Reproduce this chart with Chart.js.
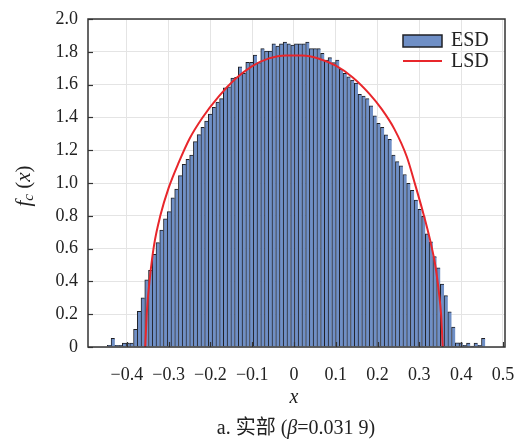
<!DOCTYPE html>
<html>
<head>
<meta charset="utf-8">
<script src="https://cdn.jsdelivr.net/npm/chart.js@4.4.1/dist/chart.umd.min.js"></script>
<style>
  html, body { margin: 0; padding: 0; background: #fff; }
</style>
</head>
<body>
<canvas id="chart" width="517" height="439"></canvas>
<script>
// histogram bins (ESD)
const binStart = -0.4467;
const binWidth = 0.008954;
const esdHeights = [
  0.010, 0.053, 0.010, 0.010, 0.024, 0.024, 0.024, 0.108, 0.218, 0.300,
  0.410, 0.467, 0.565, 0.636, 0.713, 0.782, 0.825, 0.909, 0.963, 1.045,
  1.114, 1.144, 1.171, 1.252, 1.295, 1.340, 1.378, 1.421, 1.462, 1.494,
  1.514, 1.581, 1.587, 1.640, 1.644, 1.709, 1.669, 1.736, 1.736, 1.780,
  1.734, 1.819, 1.805, 1.805, 1.849, 1.835, 1.848, 1.860, 1.849, 1.841,
  1.848, 1.848, 1.848, 1.860, 1.819, 1.819, 1.819, 1.791, 1.750, 1.764,
  1.734, 1.750, 1.693, 1.669, 1.648, 1.628, 1.610, 1.541, 1.530, 1.514,
  1.470, 1.410, 1.364, 1.340, 1.293, 1.266, 1.171, 1.130, 1.104, 1.052,
  0.998, 0.955, 0.896, 0.840, 0.797, 0.690, 0.642, 0.551, 0.482, 0.383,
  0.313, 0.215, 0.122, 0.026, 0.026, 0.010, 0.024, 0.005, 0.024, 0.010,
  0.053
];

// LSD curve, points
const lsdX = [
  -0.356, -0.352, -0.345, -0.335, -0.320, -0.300, -0.275, -0.250, -0.220, -0.180,
  -0.140, -0.100, -0.060, -0.020, 0.020, 0.060, 0.100, 0.140, 0.180, 0.210,
  0.240, 0.270, 0.290, 0.310, 0.325, 0.338, 0.347, 0.352, 0.356
];
const lsdY = [
  0.000, 0.220, 0.420, 0.620, 0.800, 0.970, 1.130, 1.270, 1.395, 1.528,
  1.635, 1.713, 1.760, 1.778, 1.778, 1.758, 1.715, 1.645, 1.545, 1.450,
  1.330, 1.160, 0.990, 0.810, 0.660, 0.500, 0.330, 0.200, 0.000
];

const xTicks = [-0.4, -0.3, -0.2, -0.1, 0, 0.1, 0.2, 0.3, 0.4, 0.5];
const yTicks = [0, 0.2, 0.4, 0.6, 0.8, 1.0, 1.2, 1.4, 1.6, 1.8, 2.0];

const serif = "'Liberation Serif', 'Times New Roman', 'Noto Sans CJK SC', serif";
const barFill = '#6f8fc6';
const barEdge = '#1f2026';
const lineRed = '#e8262b';

Chart.defaults.font.family = serif;
Chart.defaults.font.size = 18;
Chart.defaults.color = '#222';

// frame, inward ticks, legend, axis titles and caption
const decorPlugin = {
  id: 'decor',
  afterDraw(chart) {
    const { ctx, chartArea: a, scales } = chart;
    ctx.save();
    ctx.strokeStyle = '#333';
    ctx.lineWidth = 1.2;
    xTicks.forEach(v => {
      const px = Math.round(scales.x.getPixelForValue(v)) + 0.5;
      ctx.beginPath(); ctx.moveTo(px, a.bottom); ctx.lineTo(px, a.bottom - 5); ctx.stroke();
    });
    yTicks.forEach(v => {
      const py = Math.round(scales.y.getPixelForValue(v)) + 0.5;
      ctx.beginPath(); ctx.moveTo(a.left, py); ctx.lineTo(a.left + 5, py); ctx.stroke();
    });
    ctx.lineWidth = 1.5;
    ctx.strokeRect(a.left, a.top, a.right - a.left, a.bottom - a.top);

    // legend
    const ds = chart.data.datasets;
    ctx.fillStyle = barFill;
    ctx.fillRect(403, 35, 39, 12);
    ctx.strokeStyle = barEdge;
    ctx.lineWidth = 1.5;
    ctx.strokeRect(403, 35, 39, 12);
    ctx.strokeStyle = lineRed;
    ctx.lineWidth = 2;
    ctx.beginPath(); ctx.moveTo(403, 61); ctx.lineTo(442, 61); ctx.stroke();
    ctx.fillStyle = '#222';
    ctx.font = '20px ' + serif;
    ctx.textAlign = 'left';
    ctx.textBaseline = 'middle';
    ctx.fillText(ds[1].label, 451, 41);
    ctx.fillText(ds[0].label, 451, 62);

    // x title
    ctx.font = 'italic 20px ' + serif;
    ctx.textAlign = 'center';
    ctx.fillText('x', 294, 398);

    // caption
    const parts = [
      ['a. 实部 (', '20px ' + serif],
      ['β', 'italic 20px ' + serif],
      ['=0.031 9)', '20px ' + serif]
    ];
    let total = 0;
    parts.forEach(p => { ctx.font = p[1]; total += ctx.measureText(p[0]).width; });
    let cx = 296 - total / 2;
    ctx.textAlign = 'left';
    parts.forEach(p => { ctx.font = p[1]; ctx.fillText(p[0], cx, 429); cx += ctx.measureText(p[0]).width; });

    // y title, rotated
    ctx.translate(24, 186);
    ctx.rotate(-Math.PI / 2);
    const yparts = [
      ['f', 'italic 21px ' + serif, 0],
      ['c', 'italic 15px ' + serif, 5],
      [' (', '21px ' + serif, 0],
      ['x', 'italic 21px ' + serif, 0],
      [')', '21px ' + serif, 0]
    ];
    total = 0;
    yparts.forEach(p => { ctx.font = p[1]; total += ctx.measureText(p[0]).width; });
    cx = -total / 2;
    yparts.forEach(p => { ctx.font = p[1]; ctx.fillText(p[0], cx, p[2]); cx += ctx.measureText(p[0]).width; });
    ctx.restore();
  }
};

const fmtX = v => v === 0 ? '0' : (v < 0 ? '\u2212' : '') + Math.abs(v).toFixed(1);
const fmtY = v => v === 0 ? '0' : v.toFixed(1);

new Chart(document.getElementById('chart').getContext('2d'), {
  type: 'bar',
  data: {
    datasets: [
      {
        type: 'line',
        label: 'LSD',
        data: lsdX.map((x, i) => ({ x: x, y: lsdY[i] })),
        borderColor: lineRed,
        borderWidth: 2,
        pointRadius: 0,
        cubicInterpolationMode: 'monotone',
        order: 0
      },
      {
        type: 'bar',
        label: 'ESD',
        data: esdHeights.map((h, i) => ({ x: binStart + (i + 0.5) * binWidth, y: h })),
        backgroundColor: barFill,
        borderColor: barEdge,
        borderWidth: { top: 1, left: 1, right: 0, bottom: 0 },
        borderSkipped: false,
        barPercentage: 1,
        categoryPercentage: 1,
        order: 1
      }
    ]
  },
  options: {
    responsive: false,
    animation: false,
    events: [],
    layout: { padding: { top: 19, right: 12, left: 0, bottom: 0 } },
    plugins: { legend: { display: false }, tooltip: { enabled: false } },
    scales: {
      x: {
        type: 'linear',
        offset: false,
        min: -0.493,
        max: 0.505,
        afterFit: s => { s.height = 92; s.paddingLeft = 0; s.paddingRight = 0; },
        afterBuildTicks: s => { s.ticks = xTicks.map(v => ({ value: v })); },
        grid: { color: '#e4e4e4', drawTicks: false, offset: false },
        border: { display: false },
        ticks: { padding: 17, callback: fmtX, maxRotation: 0, autoSkip: false }
      },
      y: {
        min: 0,
        max: 2,
        afterFit: s => { s.width = 88; s.paddingTop = 0; s.paddingBottom = 0; },
        afterBuildTicks: s => { s.ticks = yTicks.map(v => ({ value: v })); },
        grid: { color: '#e4e4e4', drawTicks: false },
        border: { display: false },
        ticks: { padding: 10, callback: fmtY, autoSkip: false }
      }
    }
  },
  plugins: [decorPlugin]
});
</script>
</body>
</html>
